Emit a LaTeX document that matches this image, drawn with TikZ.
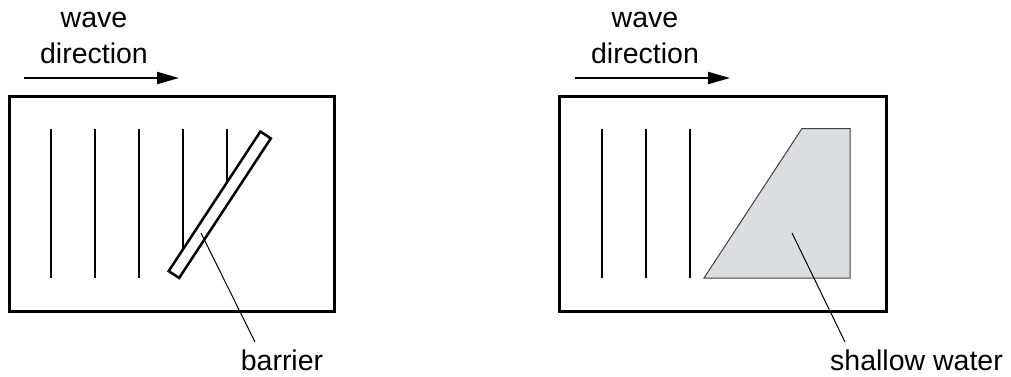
\documentclass[tikz,border=0pt]{standalone}
\usepackage{fontspec}
\setmainfont{Liberation Sans}
\usetikzlibrary{arrows.meta}
\definecolor{shallow}{HTML}{DCDDE0}
\begin{document}
\begin{tikzpicture}[x=1pt,y=-1pt,
  frame/.style={line width=3pt},
  wave/.style={line width=1.5pt},
  leader/.style={line width=1pt},
  dirarrow/.style={line width=2.2pt,-{Triangle[length=22pt,width=12pt]}},
  lbl/.style={font=\fontsize{28.5}{34}\selectfont,anchor=base,inner sep=0pt}]
\useasboundingbox (0,0) rectangle (1011,377);
% ---------- left panel ----------
\node[lbl] (w1) at (94,28) {wave};
\node[lbl] (d1) at (94,64) {direction};
\coordinate (a1s) at (24,78);
\coordinate (a1e) at (179,78);
\draw[dirarrow] (a1s) -- (a1e);
\draw[frame] (9,97) rectangle (334,311);
\foreach \x/\yb in {51/278,95/278,139/278,183/248.3,227/182}
  \draw[wave] (\x,129) -- (\x,\yb);
\node[draw,line width=2.5pt,minimum width=167pt,minimum height=12.5pt,inner sep=0pt,
      rotate=56.7] (bar) at (219.75,204.75) {};
\coordinate (bp) at (201,233);
\node[lbl] (blab) at (282,370) {barrier};
\draw[leader] (bp) -- (255,342);
% ---------- right panel ----------
\node[lbl] (w2) at (645,28) {wave};
\node[lbl] (d2) at (645,64) {direction};
\coordinate (a2s) at (575,78);
\coordinate (a2e) at (730,78);
\draw[dirarrow] (a2s) -- (a2e);
\draw[frame] (559,97) rectangle (886,311);
\foreach \x in {602,646,690}
  \draw[wave] (\x,129) -- (\x,278);
\draw[fill=shallow,draw=black!75,line width=1pt] (704,278) -- (802,128.5) -- (850,128.5) -- (850,278) -- cycle;
\coordinate (sp) at (792,233);
\node[lbl] (slab) at (916.5,370) {shallow water};
\draw[leader] (sp) -- (845,342);
\end{tikzpicture}
\end{document}
